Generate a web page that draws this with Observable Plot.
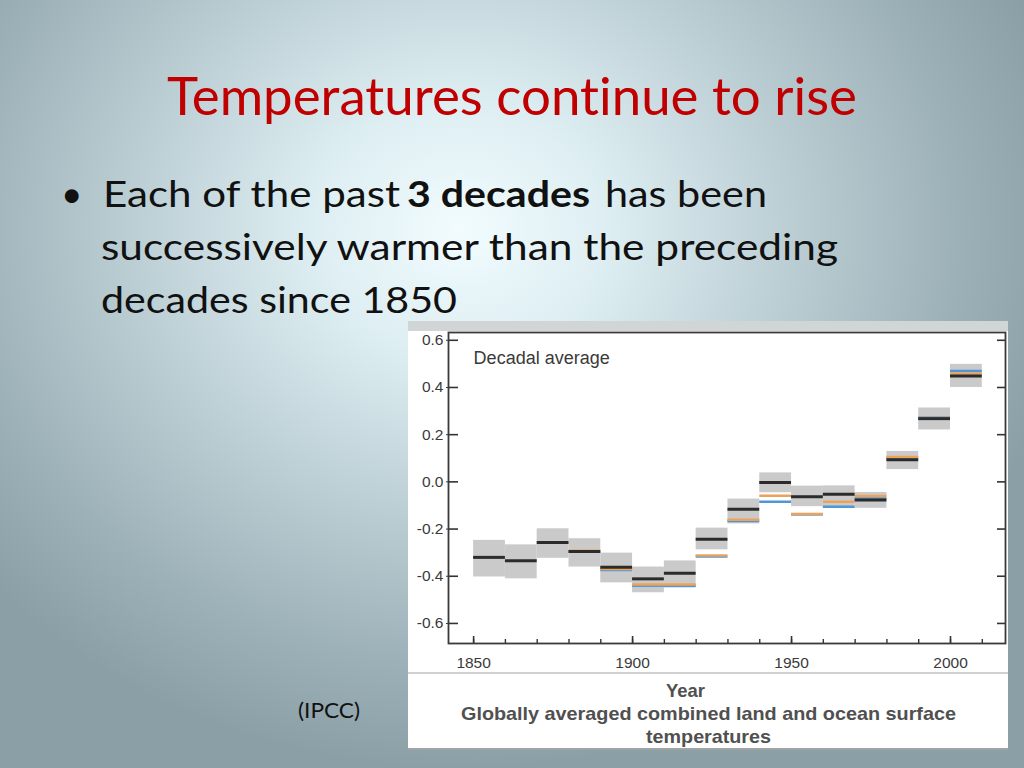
<!DOCTYPE html>
<html>
<head>
<meta charset="utf-8">
<script src="https://cdn.jsdelivr.net/npm/d3@7"></script>
<script src="https://cdn.jsdelivr.net/npm/@observablehq/plot@0.6"></script>
<style>
html, body { margin: 0; padding: 0; }
#slide {
  position: relative; width: 1024px; height: 768px; overflow: hidden;
  background: radial-gradient(ellipse 620px 540px at 460px 230px,
    #f2fcfe 0%, #dcedf1 25%, #b9ccd2 55%, #9db1b8 80%, #8b9fa7 100%);
}
#panel { position: absolute; left: 408px; top: 321px; width: 600px; height: 429px; background: #fff; border-bottom: 2px solid #a0a4a5; box-sizing: border-box; }
#band { position: absolute; left: 0; top: 0; width: 600px; height: 10px; background: #d2d5d5; }
#chart { position: absolute; left: 0; top: 0; }
#sep { position: absolute; left: 0; top: 351px; width: 600px; height: 2px; background: #d0d2d2; }
#overlay { position: absolute; left: 0; top: 0; pointer-events: none; font-variant-ligatures: none; }
#overlay text { font-variant-ligatures: none; font-feature-settings: "liga" 0, "clig" 0; }
</style>
</head>
<body>
<div id="slide">
  <div id="panel">
    <div id="chart"></div>
    <div id="band"></div>
    <div id="sep"></div>
  </div>
  <svg id="overlay" width="1024" height="768">
    <text x="167" y="115" font-family="Lato" font-size="52" fill="#c00000" textLength="690" lengthAdjust="spacingAndGlyphs">Temperatures continue to rise</text>
    <text x="61" y="207" font-family="Lato" font-size="37" fill="#111">•</text>
    <text x="103" y="207" font-family="Lato" font-size="37" fill="#111" textLength="297" lengthAdjust="spacingAndGlyphs">Each of the past</text>
    <text x="407" y="207" font-family="Lato" font-size="37" font-weight="bold" fill="#111" textLength="183" lengthAdjust="spacingAndGlyphs">3 decades</text>
    <text x="605" y="207" font-family="Lato" font-size="37" fill="#111" textLength="162" lengthAdjust="spacingAndGlyphs">has been</text>
    <text x="101" y="260" font-family="Lato" font-size="37" fill="#111" textLength="737" lengthAdjust="spacingAndGlyphs">successively warmer than the preceding</text>
    <text x="101" y="313" font-family="Lato" font-size="37" fill="#111" textLength="356" lengthAdjust="spacingAndGlyphs">decades since 1850</text>
    <text x="298" y="718" font-family="Lato" font-size="22" fill="#111" textLength="62" lengthAdjust="spacingAndGlyphs">(IPCC)</text>
    <text x="666" y="697" font-family="Liberation Sans, Arial, sans-serif" font-size="18.5" font-weight="bold" fill="#505050" textLength="39" lengthAdjust="spacingAndGlyphs">Year</text>
    <text x="461" y="720" font-family="Liberation Sans, Arial, sans-serif" font-size="18.5" font-weight="bold" fill="#505050" textLength="495" lengthAdjust="spacingAndGlyphs">Globally averaged combined land and ocean surface</text>
    <text x="646" y="743" font-family="Liberation Sans, Arial, sans-serif" font-size="18.5" font-weight="bold" fill="#505050" textLength="125" lengthAdjust="spacingAndGlyphs">temperatures</text>
  </svg>
</div>
<script>
// Decade start years
const decades = [1850, 1860, 1870, 1880, 1890, 1900, 1910, 1920, 1930, 1940, 1950, 1960, 1970, 1980, 1990, 2000];
// HadCRUT4 decadal mean (black) and its uncertainty range (grey boxes)
const hadcrut = [-0.32, -0.334, -0.257, -0.295, -0.362, -0.411, -0.387, -0.243, -0.116, -0.003, -0.063, -0.053, -0.077, 0.094, 0.268, 0.449];
const hadLow  = [-0.403, -0.411, -0.324, -0.361, -0.428, -0.470, -0.450, -0.288, -0.178, -0.046, -0.105, -0.105, -0.112, 0.052, 0.220, 0.400];
const hadHigh = [-0.248, -0.267, -0.199, -0.241, -0.302, -0.361, -0.335, -0.196, -0.073, 0.038, -0.018, -0.017, -0.045, 0.129, 0.313, 0.498];
// MLOST (orange) and GISS (blue) decadal means
const mlost = [null, null, null, -0.292, -0.369, -0.435, -0.435, -0.312, -0.161, -0.059, -0.136, -0.084, -0.060, 0.105, 0.270, 0.458];
const giss  = [null, null, null, -0.296, -0.374, -0.440, -0.440, -0.316, -0.166, -0.084, -0.138, -0.105, -0.070, 0.100, 0.272, 0.470];
// Axis ticks
const yTicks = [-0.6, -0.4, -0.2, 0.0, 0.2, 0.4, 0.6];
const xMajor = [1850, 1900, 1950, 2000];
const xMinor = [1850, 1860, 1870, 1880, 1890, 1900, 1910, 1920, 1930, 1940, 1950, 1960, 1970, 1980, 1990, 2000, 2010];
const panelLabel = ["Decadal average"];

const xDom = [1842.1, 2017.3];
const yDom = [-0.685, 0.633];
const W = 600, H = 351, mL = 40, mR = 3, mT = 11, mB = 29;
const pxX = (W - mL - mR) / (xDom[1] - xDom[0]);
const pxY = (H - mT - mB) / (yDom[1] - yDom[0]);

const boxes = decades.map((d, i) => ({x1: d, x2: d + 10, lo: hadLow[i], hi: hadHigh[i]}));
const line = (arr) => decades.map((d, i) => ({x1: d, x2: d + 10, v: arr[i]})).filter(r => r.v != null);

const chart = Plot.plot({
  width: W, height: H,
  marginLeft: mL, marginRight: mR, marginTop: mT, marginBottom: mB,
  x: {domain: xDom},
  y: {domain: yDom},
  style: {background: "transparent", fontFamily: "Liberation Sans, Arial, sans-serif", fontSize: "15.5px", color: "#3a3a3a", overflow: "visible"},
  marks: [
    Plot.rectY(boxes, {x1: "x1", x2: "x2", y1: "lo", y2: "hi", fill: "#c4c4c4", fillOpacity: 0.9}),
    Plot.ruleY(line(giss), {x1: "x1", x2: "x2", y: "v", stroke: "#4f97d6", strokeWidth: 2.5}),
    Plot.ruleY(line(mlost), {x1: "x1", x2: "x2", y: "v", stroke: "#eda25a", strokeWidth: 2.5}),
    Plot.ruleY(line(hadcrut), {x1: "x1", x2: "x2", y: "v", stroke: "#2b2b2b", strokeWidth: 3}),
    Plot.axisY(yTicks, {tickSize: 2, tickPadding: 3, tickFormat: d => d.toFixed(1), fontSize: 15.5, fill: "#3a3a3a", label: null}),
    Plot.axisX(xMajor, {tickSize: 0, tickPadding: 13, tickFormat: d => String(d), fontSize: 15.5, fill: "#3a3a3a", label: null}),
    Plot.ruleY(yTicks, {y: d => d, x1: xDom[0], x2: xDom[0] + 10 / pxX, stroke: "#333", strokeWidth: 1.6}),
    Plot.ruleY(yTicks, {y: d => d, x1: xDom[1] - 8 / pxX, x2: xDom[1], stroke: "#333", strokeWidth: 1.6}),
    Plot.ruleX(xMinor, {x: d => d, y1: yDom[0], y2: yDom[0] + 4 / pxY, stroke: "#333", strokeWidth: 1.4}),
    Plot.ruleX(xMajor, {x: d => d, y1: yDom[0], y2: yDom[0] + 7 / pxY, stroke: "#333", strokeWidth: 1.6}),
    Plot.text(panelLabel, {x: 1850, y: 0.525, text: d => d, textAnchor: "start", fontSize: 18, fill: "#3a3a3a"}),
    Plot.frame({stroke: "#3a3a3a", strokeWidth: 1.8})
  ]
});
document.getElementById("chart").appendChild(chart);
</script>
</body>
</html>
